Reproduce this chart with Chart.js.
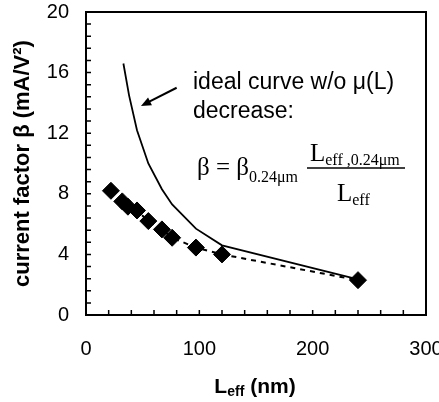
<!DOCTYPE html>
<html>
<head>
<meta charset="utf-8">
<script src="https://cdn.jsdelivr.net/npm/chart.js@4.4.1/dist/chart.umd.min.js"></script>
<style>
  body { margin: 0; background: #fff; }
  canvas { display: block; }
</style>
</head>
<body>
<canvas id="beta-chart" width="439" height="402"></canvas>
<script>
// measured current factor (diamonds, dashed)
const measuredL = [22, 32, 37, 45, 55, 67, 76, 97, 120, 240];
const measuredBeta = [8.2, 7.5, 7.15, 6.9, 6.2, 5.65, 5.1, 4.45, 4.0, 2.3];

// ideal curve w/o mobility decrease (solid)
const idealL = [33, 38, 45, 55, 67, 76, 97, 120, 240];
const idealBeta = [16.6, 14.5, 12.2, 10.0, 8.3, 7.3, 5.7, 4.6, 2.35];

const xTicks = [0, 100, 200, 300];
const yTicks = [0, 4, 8, 12, 16, 20];

// arrow pointing at the ideal curve (data coords: tail, head)
const arrowFrom = [80, 15.0];
const arrowTo = [48.5, 13.8];

const SANS = "'Liberation Sans', Arial, sans-serif";
const SERIF = "'Liberation Serif', 'Times New Roman', serif";

Chart.defaults.font.family = SANS;
Chart.defaults.color = '#000';

function toPoints(xs, ys) {
  return xs.map((x, i) => ({ x: x, y: ys[i] }));
}

//******** frame, inward ticks, annotations ********
const decorations = {
  id: 'decorations',
  afterDatasetsDraw(chart) {
    const ctx = chart.ctx;
    const area = chart.chartArea;
    const xs = chart.scales.x, ys = chart.scales.y;

    ctx.save();
    ctx.strokeStyle = '#000';
    ctx.lineWidth = 1.5;
    ctx.beginPath();
    for (let v = 20; v < 300; v += 20) {
      const px = xs.getPixelForValue(v);
      ctx.moveTo(px, area.bottom);
      ctx.lineTo(px, area.bottom - 5);
    }
    for (let i = 1; i < 25; i++) {
      const py = ys.getPixelForValue(i * 0.8);
      ctx.moveTo(area.left, py);
      ctx.lineTo(area.left + 5, py);
    }
    ctx.stroke();

    // box
    ctx.lineWidth = 2;
    ctx.strokeRect(area.left, area.top, area.right - area.left, area.bottom - area.top);

    // arrow
    const ax0 = xs.getPixelForValue(arrowFrom[0]), ay0 = ys.getPixelForValue(arrowFrom[1]);
    const ax1 = xs.getPixelForValue(arrowTo[0]), ay1 = ys.getPixelForValue(arrowTo[1]);
    const ang = Math.atan2(ay1 - ay0, ax1 - ax0);
    const head = 11;
    ctx.lineWidth = 2;
    ctx.beginPath();
    ctx.moveTo(ax0, ay0);
    ctx.lineTo(ax1 - Math.cos(ang) * head * 0.8, ay1 - Math.sin(ang) * head * 0.8);
    ctx.stroke();
    ctx.fillStyle = '#000';
    ctx.beginPath();
    ctx.moveTo(ax1, ay1);
    ctx.lineTo(ax1 - head * Math.cos(ang - 0.4), ay1 - head * Math.sin(ang - 0.4));
    ctx.lineTo(ax1 - head * Math.cos(ang + 0.4), ay1 - head * Math.sin(ang + 0.4));
    ctx.closePath();
    ctx.fill();

    // label text
    ctx.textBaseline = 'alphabetic';
    ctx.textAlign = 'left';
    ctx.font = '23px ' + SANS;
    ctx.fillText('ideal curve w/o \u03bc(L)', 193, 89);
    ctx.fillText('decrease:', 193, 118);

    // formula
    ctx.font = '25px ' + SERIF;
    ctx.fillText('\u03b2 = \u03b2', 197, 175);
    let w = ctx.measureText('\u03b2 = \u03b2').width;
    ctx.font = '16px ' + SERIF;
    ctx.fillText('0.24\u03bcm', 197 + w, 182);

    ctx.font = '25px ' + SERIF;
    ctx.fillText('L', 310, 161);
    w = ctx.measureText('L').width;
    ctx.font = '16px ' + SERIF;
    ctx.fillText('eff ,0.24\u03bcm', 310 + w, 165);

    ctx.lineWidth = 1.5;
    ctx.beginPath();
    ctx.moveTo(307, 168);
    ctx.lineTo(405, 168);
    ctx.stroke();

    ctx.font = '25px ' + SERIF;
    ctx.fillText('L', 337, 201);
    w = ctx.measureText('L').width;
    ctx.font = '16px ' + SERIF;
    ctx.fillText('eff', 337 + w, 205);

    // x axis title with subscript
    ctx.font = 'bold 21px ' + SANS;
    const wL = ctx.measureText('L').width;
    const wN = ctx.measureText(' (nm)').width;
    ctx.font = 'bold 14px ' + SANS;
    const wE = ctx.measureText('eff').width;
    let tx = 255 - (wL + wE + wN) / 2;
    ctx.font = 'bold 21px ' + SANS;
    ctx.fillText('L', tx, 393);
    ctx.font = 'bold 14px ' + SANS;
    ctx.fillText('eff', tx + wL, 396);
    ctx.font = 'bold 21px ' + SANS;
    ctx.fillText(' (nm)', tx + wL + wE, 393);
    ctx.restore();
  }
};

const ctx = document.getElementById('beta-chart');
const betaChart = new Chart(ctx, {
  type: 'scatter',
  data: {
    datasets: [
      {
        label: 'measured',
        data: toPoints(measuredL, measuredBeta),
        showLine: true,
        borderColor: '#000',
        borderWidth: 2,
        borderDash: [5, 5],
        pointStyle: 'rectRot',
        pointRadius: 8.5,
        pointBackgroundColor: '#000',
        pointBorderColor: '#000',
        pointBorderWidth: 1
      },
      {
        label: 'ideal',
        data: toPoints(idealL, idealBeta),
        showLine: true,
        borderColor: '#000',
        borderWidth: 1.8,
        pointRadius: 0,
        tension: 0
      }
    ]
  },
  options: {
    responsive: false,
    devicePixelRatio: 1,
    animation: false,
    layout: {
      padding: { top: 12, right: 13, left: 0, bottom: 0 }
    },
    plugins: {
      legend: { display: false },
      tooltip: { enabled: false }
    },
    scales: {
      x: {
        type: 'linear',
        min: 0,
        max: 300,
        grid: { display: false },
        border: { display: false },
        ticks: { padding: 14, font: { size: 20 }, color: '#000', maxRotation: 0 },
        afterBuildTicks: (s) => { s.ticks = xTicks.map(v => ({ value: v })); },
        afterFit: (s) => { s.height = 87; s.paddingLeft = 0; s.paddingRight = 0; }
      },
      y: {
        type: 'linear',
        min: 0,
        max: 20,
        grid: { display: false },
        border: { display: false },
        ticks: { padding: 9, font: { size: 20 }, color: '#000' },
        title: {
          display: true,
          text: 'current factor \u03b2 (mA/V\u00b2)',
          font: { size: 22, weight: 'bold' },
          color: '#000',
          padding: { top: 10, bottom: 0 }
        },
        afterBuildTicks: (s) => { s.ticks = yTicks.map(v => ({ value: v })); },
        afterFit: (s) => { s.width = 86; s.paddingTop = 0; s.paddingBottom = 0; }
      }
    }
  },
  plugins: [decorations]
});
</script>
</body>
</html>
